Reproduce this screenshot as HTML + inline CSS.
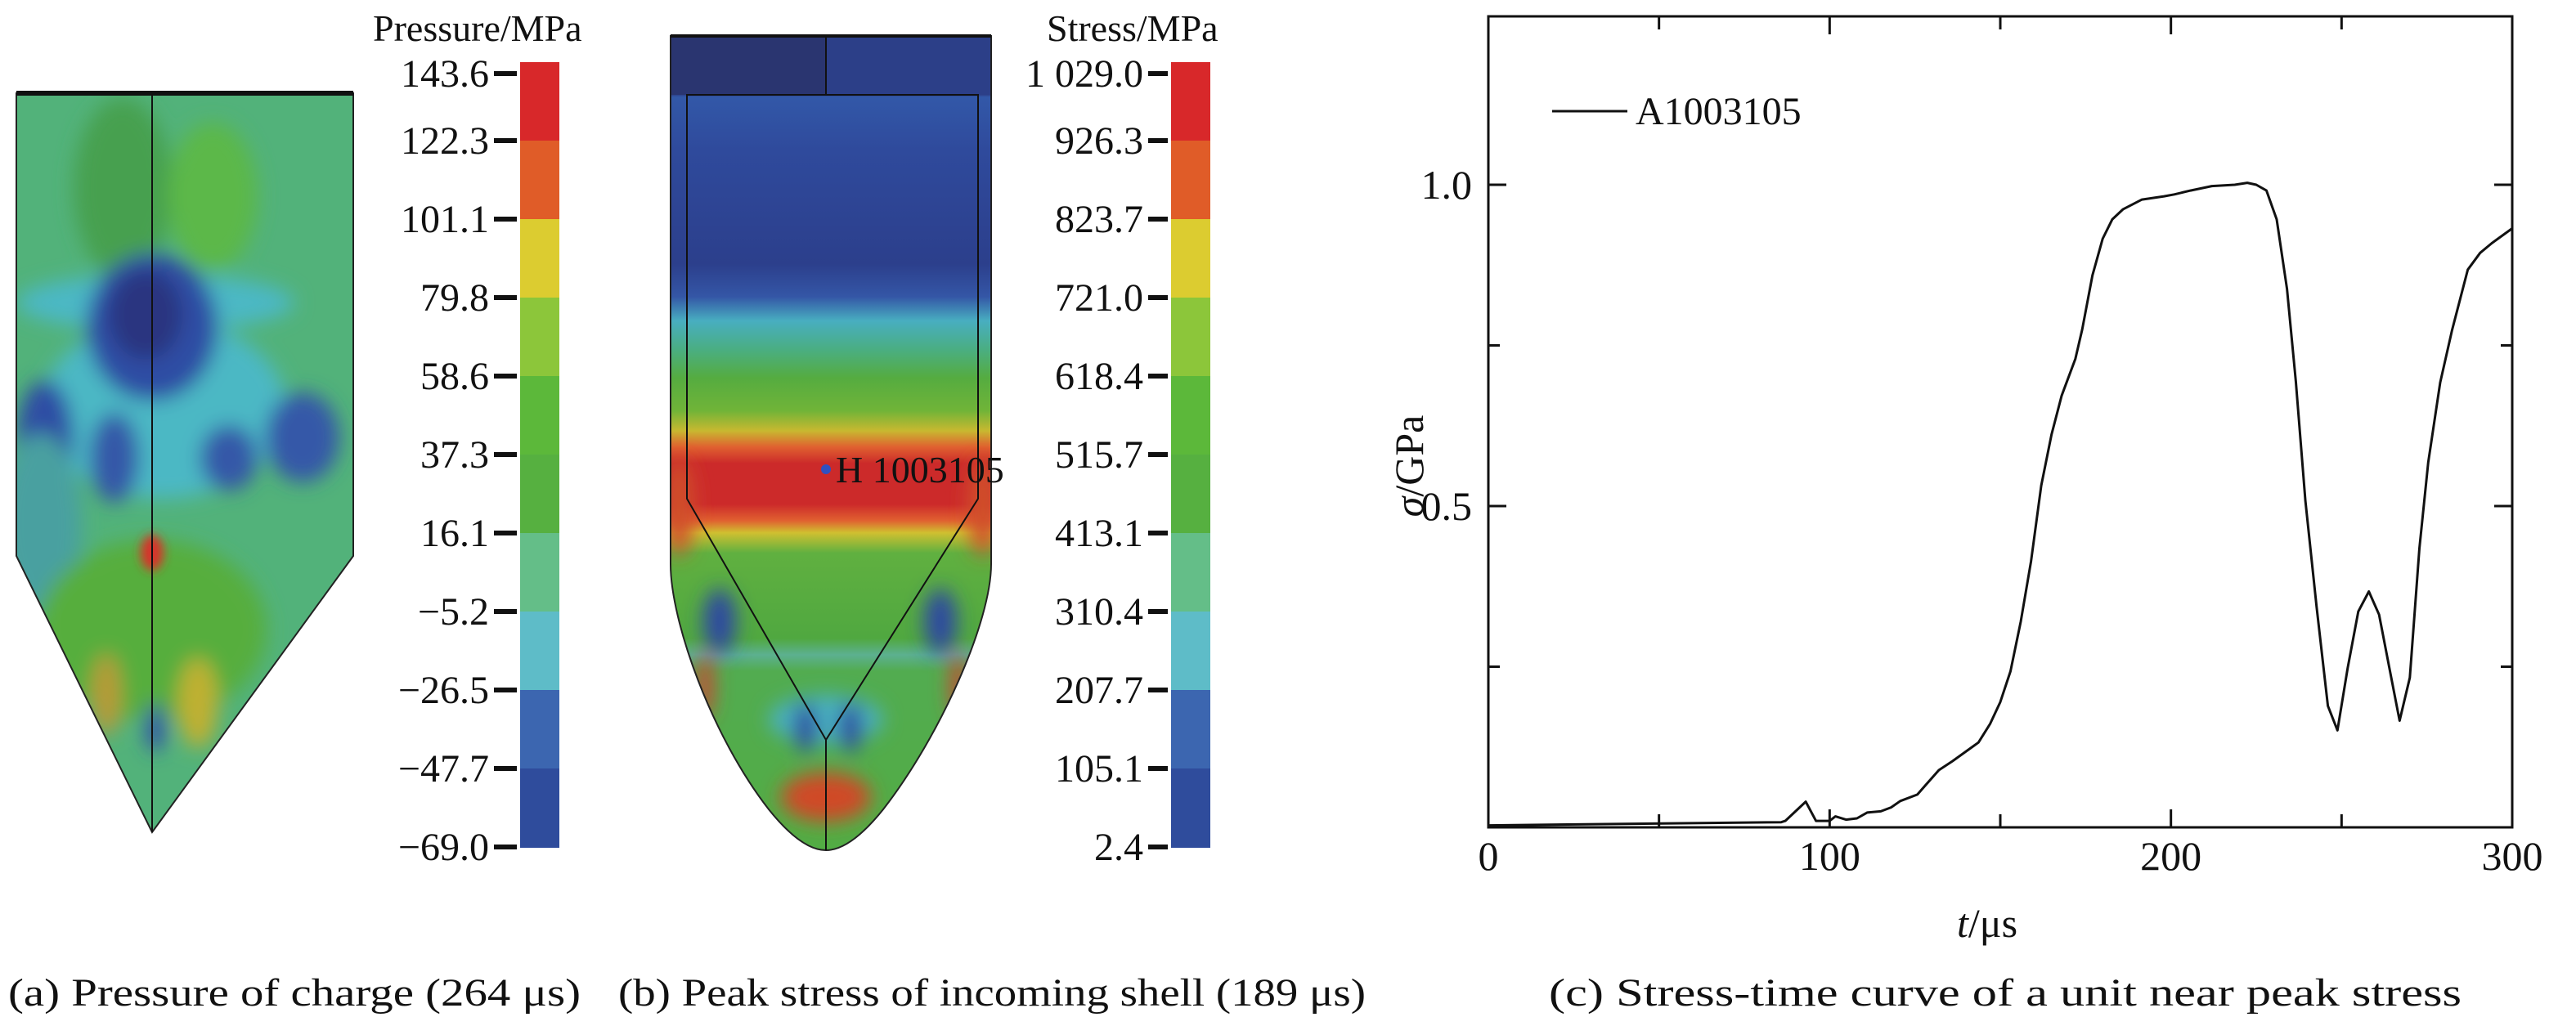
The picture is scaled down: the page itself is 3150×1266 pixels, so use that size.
<!DOCTYPE html>
<html><head><meta charset="utf-8"><style>
html,body{margin:0;padding:0;background:#fff;}
svg{display:block;}
text{font-family:"Liberation Serif","Times New Roman",serif;}
</style></head><body>
<svg id="fig" width="3150" height="1266" viewBox="0 0 3150 1266" xmlns="http://www.w3.org/2000/svg" font-family="Liberation Serif, serif">
<defs>
 <filter id="bl" x="-50%" y="-50%" width="200%" height="200%"><feGaussianBlur stdDeviation="12"/></filter>
 <filter id="bl2" x="-50%" y="-50%" width="200%" height="200%"><feGaussianBlur stdDeviation="6"/></filter>
 <clipPath id="clipA"><path d="M20,114 H432 V680 L186,1018 L20,680 Z"/></clipPath>
 <clipPath id="clipB"><path d="M820,44 H1212 V690 C1212,760 1150,900 1080,990 Q1040,1040 1010,1040 Q980,1040 940,990 C870,900 820,760 820,690 Z"/></clipPath>
 <linearGradient id="gB" x1="0" y1="44" x2="0" y2="1040" gradientUnits="userSpaceOnUse">
  <stop offset="0" stop-color="#2c3f88"/><stop offset="0.072" stop-color="#2c3f88"/>
  <stop offset="0.075" stop-color="#3258a8"/><stop offset="0.14" stop-color="#2f4a9c"/>
  <stop offset="0.28" stop-color="#2c3f8c"/><stop offset="0.32" stop-color="#3456a6"/>
  <stop offset="0.35" stop-color="#48aec0"/><stop offset="0.385" stop-color="#4aae82"/>
  <stop offset="0.42" stop-color="#55ac40"/><stop offset="0.46" stop-color="#70b438"/>
  <stop offset="0.485" stop-color="#c8b830"/><stop offset="0.505" stop-color="#e06030"/>
  <stop offset="0.525" stop-color="#cc2a2a"/><stop offset="0.575" stop-color="#cc2a2a"/>
  <stop offset="0.595" stop-color="#e06030"/><stop offset="0.61" stop-color="#d0c030"/>
  <stop offset="0.635" stop-color="#60b040"/><stop offset="0.74" stop-color="#50a840"/>
  <stop offset="0.76" stop-color="#5cb090"/><stop offset="0.78" stop-color="#52ac50"/>
  <stop offset="1" stop-color="#52ac44"/>
 </linearGradient>
</defs>

<g>
 <g clip-path="url(#clipA)">
  <rect x="0" y="100" width="450" height="930" fill="#52b27a"/>
  <g filter="url(#bl)">
   <ellipse cx="150" cy="230" rx="60" ry="110" fill="#46a050"/>
   <ellipse cx="260" cy="240" rx="55" ry="90" fill="#5cb84a"/>
   <ellipse cx="190" cy="370" rx="170" ry="35" fill="#4cb8c4"/>
   <ellipse cx="200" cy="500" rx="150" ry="110" fill="#4cb8c4"/>
   <ellipse cx="186" cy="400" rx="80" ry="90" fill="#2f4ea4"/>
   <ellipse cx="178" cy="385" rx="45" ry="55" fill="#2a3580"/>
   <ellipse cx="55" cy="540" rx="35" ry="75" fill="#2f4ea4"/>
   <ellipse cx="140" cy="560" rx="30" ry="55" fill="#3458a8"/>
   <ellipse cx="370" cy="535" rx="45" ry="55" fill="#3458a8"/>
   <ellipse cx="280" cy="560" rx="35" ry="40" fill="#3458a8"/>
   <ellipse cx="50" cy="640" rx="50" ry="110" fill="#4aa0a0"/>
   <ellipse cx="186" cy="770" rx="140" ry="110" fill="#56ae3c"/>
   <ellipse cx="130" cy="850" rx="18" ry="50" fill="#b89a38"/>
   <ellipse cx="242" cy="860" rx="24" ry="55" fill="#c0b030"/>
   <ellipse cx="190" cy="890" rx="12" ry="30" fill="#3050a8"/>
  </g>
  <ellipse cx="186" cy="676" rx="14" ry="22" fill="#d8302a" filter="url(#bl2)"/>
 </g>
 <path d="M20,114 H432 V680 L186,1018 L20,680 Z" fill="none" stroke="#222" stroke-width="2"/>
 <line x1="20" y1="114" x2="432" y2="114" stroke="#111" stroke-width="6"/>
 <line x1="186" y1="114" x2="186" y2="1018" stroke="#111" stroke-width="2"/>
</g>

<g>
 <g clip-path="url(#clipB)">
  <rect x="800" y="40" width="430" height="1010" fill="url(#gB)"/>
  <rect x="820" y="44" width="190" height="72" fill="#2a3570"/>
  <g filter="url(#bl)">
   <ellipse cx="830" cy="620" rx="18" ry="60" fill="#d0502a"/>
   <ellipse cx="1202" cy="620" rx="18" ry="60" fill="#d0502a"/>
   <ellipse cx="880" cy="760" rx="20" ry="40" fill="#2f48a0"/>
   <ellipse cx="1150" cy="760" rx="20" ry="40" fill="#2f48a0"/>
   <ellipse cx="862" cy="840" rx="10" ry="40" fill="#d04030"/>
   <ellipse cx="1172" cy="840" rx="10" ry="40" fill="#d04030"/>
   <ellipse cx="1010" cy="880" rx="70" ry="30" fill="#4ab0c0"/>
   <ellipse cx="985" cy="890" rx="14" ry="30" fill="#2f48a0"/>
   <ellipse cx="1040" cy="890" rx="14" ry="30" fill="#2f48a0"/>
   <ellipse cx="1010" cy="975" rx="55" ry="30" fill="#d04a26"/>
  </g>
 </g>
 <path d="M820,44 H1212 V690 C1212,760 1150,900 1080,990 Q1040,1040 1010,1040 Q980,1040 940,990 C870,900 820,760 820,690 Z" fill="none" stroke="#222" stroke-width="2"/>
 <path d="M840,610 V116 H1196 V610 L1010,905 Z" fill="none" stroke="#111" stroke-width="2"/>
 <line x1="1010" y1="44" x2="1010" y2="116" stroke="#111" stroke-width="2"/>
 <line x1="1010" y1="905" x2="1010" y2="1040" stroke="#111" stroke-width="2"/>
 <line x1="820" y1="44" x2="1212" y2="44" stroke="#111" stroke-width="4"/>
 <circle cx="1010" cy="574" r="6" fill="#3050c0"/>
 <text x="1022" y="590" font-size="46" fill="#111">H 1003105</text>
</g>

<g id="cbars"></g>

<g id="chart"></g>

<text x="10" y="1230" font-size="48" textLength="700" lengthAdjust="spacingAndGlyphs" fill="#111">(a) Pressure of charge (264 μs)</text>
<text x="756" y="1230" font-size="48" textLength="914" lengthAdjust="spacingAndGlyphs" fill="#111">(b) Peak stress of incoming shell (189 μs)</text>
<text x="1894" y="1230" font-size="48" textLength="1116" lengthAdjust="spacingAndGlyphs" fill="#111">(c) Stress-time curve of a unit near peak stress</text>
</svg>
<script>
const NS="http://www.w3.org/2000/svg";
const pressureTicks=["143.6","122.3","101.1","79.8","58.6","37.3","16.1","−5.2","−26.5","−47.7","−69.0"];
const stressTicks=["1 029.0","926.3","823.7","721.0","618.4","515.7","413.1","310.4","207.7","105.1","2.4"];
const barColors=["#d8282a","#e05c28","#dccc30","#8cc63a","#5cb83a","#56b040","#64be88","#5ebcc8","#3c66b0","#2f4c9c"];
const times=[0,85.8,87,93,96,100,101.7,104.8,108,111,115,118,120.7,125.7,128,132,136,143.6,147,150,153,156,159,162,165,168,172,174,177,180,182.8,186,191.5,198,201,205.7,212,218.7,222.4,225,228,231,234,236.6,239.4,242.7,246,248.8,251.8,254.9,258,261,264,267,270,272.8,275.4,278.9,282.4,287,290.6,294,300];
const stress=[0.003,0.008,0.010,0.040,0.010,0.010,0.017,0.012,0.014,0.023,0.025,0.031,0.041,0.051,0.065,0.089,0.103,0.132,0.161,0.195,0.243,0.320,0.414,0.532,0.611,0.672,0.729,0.775,0.859,0.916,0.946,0.962,0.977,0.982,0.985,0.991,0.998,1.000,1.003,1.000,0.991,0.946,0.838,0.694,0.508,0.342,0.189,0.151,0.248,0.336,0.367,0.331,0.248,0.166,0.233,0.434,0.568,0.692,0.774,0.868,0.894,0.909,0.932];
const xTickLabels=["0","100","200","300"];
const yTickLabels=["0.5","1.0"];

function mk(tag,attrs,parent){const e=document.createElementNS(NS,tag);for(const k in attrs)e.setAttribute(k,attrs[k]);parent.appendChild(e);return e;}

const cb=document.getElementById('cbars');
function colorbar(x,labels,title,titleX,labRight,name){
  const g=mk('g',{},cb);
  
  
  const top=76,h=96;
  barColors.forEach((c,i)=>{const r=mk('rect',{x:x,y:top+i*h,width:48,height:h+1,fill:c},g);
    
    });
  labels.forEach((l,i)=>{const y=i===0?90:top+i*h;
    const t=mk('line',{x1:labRight+6,x2:x-4,y1:y,y2:y,stroke:'#111','stroke-width':6},g);
    
    
    const tx=mk('text',{x:labRight,y:y+16,'font-size':48,'text-anchor':'end',fill:'#111'},g);tx.textContent=l;
    
    });
  const tt=mk('text',{x:titleX,y:50,'font-size':46,fill:'#111'},g);tt.textContent=title;
  
  
}
colorbar(636,pressureTicks,"Pressure/MPa",456,598,'pressure-colorbar');
colorbar(1432,stressTicks,"Stress/MPa",1280,1398,'stress-colorbar');

const ch=document.getElementById('chart');
const L=1820,R=3072,T=20,B=1012;
const xs=t=>L+t/300*(R-L);
const ys=v=>B-v*786;
const fr=mk('rect',{x:L,y:T,width:R-L,height:B-T,fill:'none',stroke:'#111','stroke-width':3},ch);


for(let t=0;t<=300;t+=50){const len=t%100===0?22:16;const x=xs(t);
  const a=mk('line',{x1:x,x2:x,y1:B,y2:B-len,stroke:'#111','stroke-width':3},ch);
  
  
  const b=mk('line',{x1:x,x2:x,y1:T,y2:T+len,stroke:'#111','stroke-width':3},ch);
  
  }
[0.25,0.5,0.75,1.0].forEach(v=>{const y=ys(v);const len=(v*4)%2===0?22:14;
  const a=mk('line',{x1:L,x2:L+len,y1:y,y2:y,stroke:'#111','stroke-width':3},ch);
  
  
  const b=mk('line',{x1:R,x2:R-len,y1:y,y2:y,stroke:'#111','stroke-width':3},ch);
  
  });
xTickLabels.forEach(l=>{const t=mk('text',{x:xs(+l),y:1064,'font-size':50,'text-anchor':'middle',fill:'#111'},ch);t.textContent=l;
  
  });
yTickLabels.forEach(l=>{const t=mk('text',{x:1800,y:ys(+l)+17,'font-size':50,'text-anchor':'end',fill:'#111'},ch);t.textContent=l;
  
  });
const xt=mk('text',{x:2430,y:1146,'font-size':50,'text-anchor':'middle',fill:'#111'},ch);
xt.innerHTML='<tspan font-style="italic">t</tspan>/μs';


const yt=mk('text',{x:0,y:0,'font-size':50,'text-anchor':'middle',fill:'#111',transform:'translate(1740,570) rotate(-90)'},ch);
yt.innerHTML='<tspan font-style="italic">σ</tspan>/GPa';


const ll=mk('line',{x1:1898,x2:1990,y1:136,y2:136,stroke:'#111','stroke-width':3},ch);


const lt=mk('text',{x:2000,y:152,'font-size':48,fill:'#111'},ch);lt.textContent='A1003105';


const d=times.map((t,i)=>(i?'L':'M')+xs(t).toFixed(1)+','+ys(stress[i]).toFixed(1)).join(' ');
const p=mk('path',{d:d,fill:'none',stroke:'#111','stroke-width':3,'stroke-linejoin':'round'},ch);


</script>
</body></html>
